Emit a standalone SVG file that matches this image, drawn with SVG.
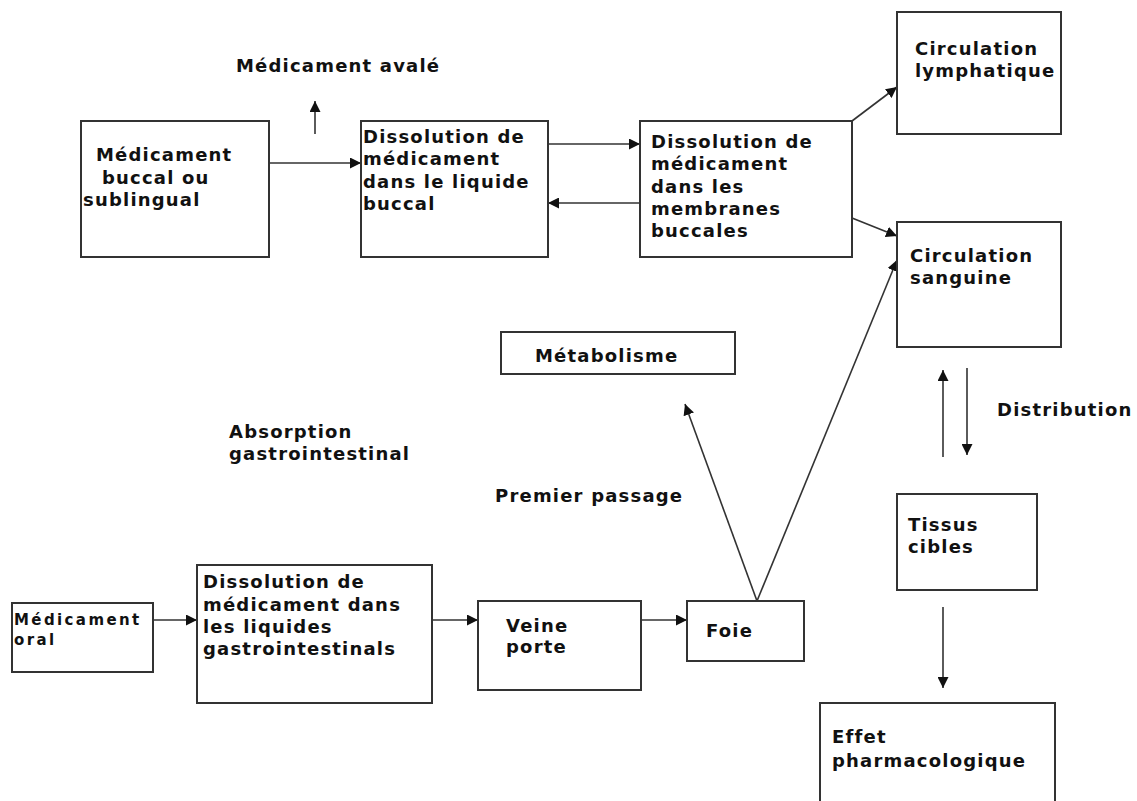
<svg xmlns="http://www.w3.org/2000/svg" width="1137" height="801" viewBox="0 0 1137 801">
<defs>
<marker id="ah" viewBox="0 0 10 10" refX="10" refY="5" markerWidth="11" markerHeight="11" markerUnits="userSpaceOnUse" orient="auto">
<path d="M0,0 L10,5 L0,10 Z" fill="#111"/>
</marker>
<style>
.box{fill:#fff;stroke:#333;stroke-width:2}
.t{font-family:"DejaVu Sans",Verdana,sans-serif;font-weight:bold;font-size:18px;letter-spacing:1.2px;fill:#111}
.s{font-size:15px;letter-spacing:2.4px}
.c{fill:none;stroke:#333;stroke-width:1.6;marker-end:url(#ah)}
</style>
</defs>
<rect width="1137" height="801" fill="#fff"/>

<g id="connectors">
<line class="c" x1="269" y1="163" x2="361" y2="163"/>
<line class="c" x1="315" y1="134" x2="315" y2="101"/>
<line class="c" x1="548" y1="144" x2="640" y2="144"/>
<line class="c" x1="640" y1="203" x2="548" y2="203"/>
<line class="c" x1="852" y1="121" x2="897" y2="87"/>
<line class="c" x1="852" y1="218" x2="897" y2="236"/>
<line class="c" x1="757" y1="601" x2="897" y2="260"/>
<line class="c" x1="757" y1="601" x2="685" y2="404"/>
<line class="c" x1="943" y1="457" x2="943" y2="370"/>
<line class="c" x1="967" y1="368" x2="967" y2="455"/>
<line class="c" x1="943" y1="607" x2="943" y2="688"/>
<line class="c" x1="153" y1="620" x2="197" y2="620"/>
<line class="c" x1="432" y1="620" x2="478" y2="620"/>
<line class="c" x1="641" y1="620" x2="687" y2="620"/>
</g>

<g id="labels">
<text class="t" x="236" y="72">Médicament avalé</text>
<text class="t" x="229" y="438">Absorption</text>
<text class="t" x="229" y="460">gastrointestinal</text>
<text class="t" x="495" y="502">Premier passage</text>
<text class="t" x="997" y="416">Distribution</text>
</g>

<g id="n-buccal">
<rect class="box" x="81" y="121" width="188" height="136"/>
<text class="t" x="96" y="161">Médicament</text>
<text class="t" x="102" y="184">buccal ou</text>
<text class="t" x="83" y="206">sublingual</text>
</g>

<g id="n-liquide-buccal">
<rect class="box" x="361" y="121" width="187" height="136"/>
<text class="t" x="363" y="143">Dissolution de</text>
<text class="t" x="363" y="165">médicament</text>
<text class="t" x="363" y="188">dans le liquide</text>
<text class="t" x="363" y="210">buccal</text>
</g>

<g id="n-membranes">
<rect class="box" x="640" y="121" width="212" height="136"/>
<text class="t" x="651" y="148">Dissolution de</text>
<text class="t" x="651" y="170">médicament</text>
<text class="t" x="651" y="193">dans les</text>
<text class="t" x="651" y="215">membranes</text>
<text class="t" x="651" y="237">buccales</text>
</g>

<g id="n-lymphatique">
<rect class="box" x="897" y="12" width="164" height="122"/>
<text class="t" x="915" y="55">Circulation</text>
<text class="t" x="915" y="77">lymphatique</text>
</g>

<g id="n-sanguine">
<rect class="box" x="897" y="222" width="164" height="125"/>
<text class="t" x="910" y="262">Circulation</text>
<text class="t" x="910" y="284">sanguine</text>
</g>

<g id="n-metabolisme">
<rect class="box" x="501" y="332" width="234" height="42"/>
<text class="t" x="535" y="362">Métabolisme</text>
</g>

<g id="n-tissus">
<rect class="box" x="897" y="494" width="140" height="96"/>
<text class="t" x="908" y="531">Tissus</text>
<text class="t" x="908" y="553">cibles</text>
</g>

<g id="n-effet">
<rect class="box" x="820" y="703" width="235" height="110"/>
<text class="t" x="832" y="743">Effet</text>
<text class="t" x="832" y="767">pharmacologique</text>
</g>

<g id="n-oral">
<rect class="box" x="12" y="603" width="141" height="69"/>
<text class="t s" x="14" y="625">Médicament</text>
<text class="t s" x="14" y="645">oral</text>
</g>

<g id="n-gastro">
<rect class="box" x="197" y="565" width="235" height="138"/>
<text class="t" x="203" y="588">Dissolution de</text>
<text class="t" x="203" y="611">médicament dans</text>
<text class="t" x="203" y="633">les liquides</text>
<text class="t" x="203" y="655">gastrointestinals</text>
</g>

<g id="n-veine">
<rect class="box" x="478" y="601" width="163" height="89"/>
<text class="t" x="506" y="632">Veine</text>
<text class="t" x="506" y="653">porte</text>
</g>

<g id="n-foie">
<rect class="box" x="687" y="601" width="117" height="60"/>
<text class="t" x="706" y="637">Foie</text>
</g>
</svg>
